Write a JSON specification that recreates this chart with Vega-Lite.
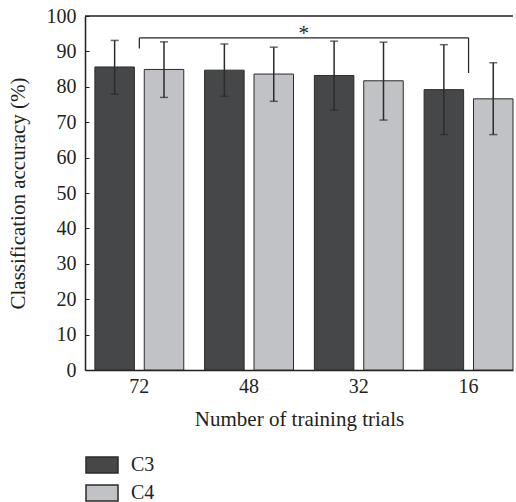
{
  "$schema": "https://vega.github.io/schema/vega-lite/v6.json",
  "autosize": "none",
  "width": 428,
  "height": 354,
  "padding": {"left": 85, "top": 16, "right": 3, "bottom": 132},
  "background": "white",
  "config": {
    "font": "Liberation Serif",
    "view": {"stroke": null},
    "axis": {"labelFont": "Liberation Serif", "titleFont": "Liberation Serif", "labelColor": "#231f20", "titleColor": "#231f20", "domainColor": "#231f20", "tickColor": "#231f20", "titleFontWeight": "normal"},
    "axisY": {"tickCount": 10, "labelOverlap": false, "grid": false, "tickSize": -4, "labelPadding": 13, "labelFontSize": 20, "titleFontSize": 21, "titlePadding": 18, "domainWidth": 1.5}
  },
  "datasets": {
    "bars": [
      {"trials": "72", "channel": "C3", "acc": 85.6, "lo": 77.9, "hi": 93.1},
      {"trials": "72", "channel": "C4", "acc": 84.9, "lo": 77.0, "hi": 92.7},
      {"trials": "48", "channel": "C3", "acc": 84.7, "lo": 77.3, "hi": 92.1},
      {"trials": "48", "channel": "C4", "acc": 83.6, "lo": 75.9, "hi": 91.2},
      {"trials": "32", "channel": "C3", "acc": 83.2, "lo": 73.4, "hi": 92.9},
      {"trials": "32", "channel": "C4", "acc": 81.7, "lo": 70.6, "hi": 92.6},
      {"trials": "16", "channel": "C3", "acc": 79.2, "lo": 66.5, "hi": 91.9},
      {"trials": "16", "channel": "C4", "acc": 76.6, "lo": 66.5, "hi": 86.8}
    ],
    "bracket": [
      {"trials": "72", "y1": 90.8, "y2": 93.8},
      {"trials": "16", "y1": 83.9, "y2": 93.8}
    ]
  },
  "layer": [
    {
      "data": {"name": "bars"},
      "mark": {"type": "bar", "stroke": "#2b2b2b", "strokeWidth": 1},
      "encoding": {
        "x": {
          "field": "trials", "type": "nominal",
          "scale": {"domain": ["72", "48", "32", "16"], "paddingInner": 0.19, "paddingOuter": 0.045, "align": 1},
          "axis": {"title": "Number of training trials", "labelAngle": 0, "ticks": false, "labelFontSize": 20, "titleFontSize": 21, "labelPadding": 6, "titlePadding": 12, "domainWidth": 1.5}
        },
        "xOffset": {"field": "channel", "type": "nominal", "scale": {"paddingInner": 0.2, "paddingOuter": 0}},
        "y": {"field": "acc", "type": "quantitative", "scale": {"domain": [0, 100], "nice": false},
          "axis": {"title": "Classification accuracy (%)"}},
        "fill": {"field": "channel", "type": "nominal", "scale": {"domain": ["C3", "C4"], "range": ["#464749", "#c1c2c5"]},
          "legend": {"title": null, "orient": "none", "legendX": 0, "legendY": 432, "direction": "vertical", "symbolType": "M-1,-0.5H1V0.5H-1Z", "symbolSize": 1024, "symbolStrokeColor": "#2b2b2b", "symbolStrokeWidth": 1.5, "symbolOpacity": 1, "labelFontSize": 20, "labelFont": "Liberation Serif", "labelColor": "#231f20", "labelOffset": 12, "rowPadding": -5, "padding": 0}}
      }
    },
    {
      "data": {"name": "bars"},
      "mark": {"type": "rule", "color": "#2b2b2b", "strokeWidth": 1.5},
      "encoding": {
        "x": {"field": "trials", "type": "nominal"},
        "xOffset": {"field": "channel", "type": "nominal"},
        "y": {"field": "lo", "type": "quantitative"},
        "y2": {"field": "hi"}
      }
    },
    {
      "data": {"name": "bars"},
      "mark": {"type": "tick", "color": "#2b2b2b", "size": 8, "thickness": 1.5},
      "encoding": {
        "x": {"field": "trials", "type": "nominal"},
        "xOffset": {"field": "channel", "type": "nominal"},
        "y": {"field": "lo", "type": "quantitative"}
      }
    },
    {
      "data": {"name": "bars"},
      "mark": {"type": "tick", "color": "#2b2b2b", "size": 8, "thickness": 1.5},
      "encoding": {
        "x": {"field": "trials", "type": "nominal"},
        "xOffset": {"field": "channel", "type": "nominal"},
        "y": {"field": "hi", "type": "quantitative"}
      }
    },
    {
      "data": {"name": "bracket"},
      "mark": {"type": "rule", "color": "#231f20", "strokeWidth": 1.2},
      "encoding": {
        "x": {"field": "trials", "type": "nominal"},
        "y": {"field": "y1", "type": "quantitative"},
        "y2": {"field": "y2"}
      }
    },
    {
      "data": {"values": [{"a": "72", "b": "16", "v": 93.8}]},
      "mark": {"type": "rule", "color": "#231f20", "strokeWidth": 1.2},
      "encoding": {
        "x": {"field": "a", "type": "nominal", "bandPosition": 0.5},
        "x2": {"field": "b", "bandPosition": 0.5},
        "y": {"field": "v", "type": "quantitative"}
      }
    },
    {
      "data": {"values": [{"a": "48", "v": 93.8, "t": "*"}]},
      "mark": {"type": "text", "baseline": "bottom", "fontSize": 21, "dy": 6, "color": "#231f20"},
      "encoding": {
        "x": {"field": "a", "type": "nominal", "bandPosition": 1.116},
        "y": {"field": "v", "type": "quantitative"},
        "text": {"field": "t"}
      }
    },
    {
      "data": {"values": [{"v": 100}]},
      "mark": {"type": "rule", "color": "#231f20", "strokeWidth": 1.5},
      "encoding": {
        "y": {"field": "v", "type": "quantitative"}
      }
    }
  ]
}
